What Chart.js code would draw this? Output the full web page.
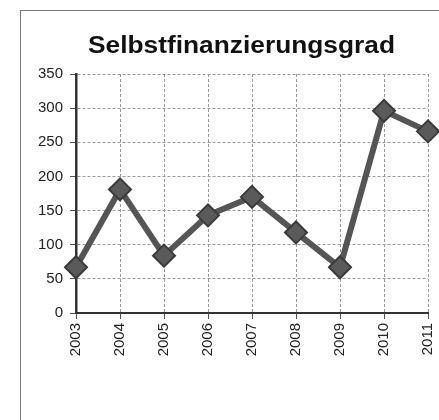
<!DOCTYPE html>
<html>
<head>
<meta charset="utf-8">
<script src="https://cdn.jsdelivr.net/npm/chart.js@4"></script>
<style>
  html, body { margin: 0; padding: 0; background: #fff; }
  #wrap { position: relative; width: 439px; height: 420px; overflow: hidden; }
  #frame {
    position: absolute; left: 20px; top: 10px; width: 440px; height: 430px;
    border-left: 1.5px solid #777; border-top: 1.5px solid #777;
  }
  #chart { position: absolute; left: 0; top: 0; }
</style>
</head>
<body>
<div id="wrap">
  <div id="frame"></div>
  <canvas id="chart" width="484" height="420"></canvas>
</div>
<script>
const years = ['2003', '2004', '2005', '2006', '2007', '2008', '2009', '2010', '2011'];
const grad = [67, 181, 84, 143, 170, 118, 67, 296, 266];
const yTicks = [0, 50, 100, 150, 200, 250, 300, 350];
const titleText = 'Selbstfinanzierungsgrad';

const FONT = 'Arial, "Liberation Sans", sans-serif';

// title is drawn here (not by the title plugin) so it can sit off-centre like the scan
const titlePlugin = {
  id: 'scanTitle',
  afterDraw: (c) => {
    const g = c.ctx;
    g.save();
    g.font = 'bold 23px ' + FONT;
    g.fillStyle = '#111';
    g.textAlign = 'center';
    g.textBaseline = 'alphabetic';
    const w = g.measureText(titleText).width;
    g.translate(241.5, 53);
    g.scale(307 / w, 1); // scan is a bit stretched sideways
    g.fillText(titleText, 0, 0);
    g.restore();
  }
};

const ctx = document.getElementById('chart').getContext('2d');
const chart = new Chart(ctx, {
  type: 'line',
  data: {
    labels: years,
    datasets: [{
      label: titleText,
      data: grad,
      borderColor: '#555555',
      borderWidth: 6,
      tension: 0,
      pointStyle: 'rectRot',
      pointRadius: 11,
      pointBackgroundColor: '#5a5a5a',
      pointBorderColor: '#3a3a3a',
      pointBorderWidth: 2
    }]
  },
  options: {
    responsive: false,
    animation: false,
    layout: { padding: { left: 0, right: 56, top: 74, bottom: 0 } },
    plugins: {
      legend: { display: false },
      tooltip: { enabled: false },
      title: { display: false }
    },
    scales: {
      x: {
        offset: false,
        afterFit: (scale) => { scale.height = 107; },
        grid: { color: '#999', lineWidth: 1, tickLength: 6, tickColor: '#555', tickBorderDash: [] },
        border: { display: true, color: '#333', width: 2, dash: [3, 2] },
        ticks: {
          color: '#222',
          font: { family: FONT, size: 15 },
          minRotation: 90,
          maxRotation: 90,
          padding: 4
        }
      },
      y: {
        min: 0,
        max: 350,
        afterFit: (scale) => { scale.width = 76; },
        afterBuildTicks: (scale) => { scale.ticks = yTicks.map(v => ({ value: v })); },
        grid: { color: '#999', lineWidth: 1, tickLength: 6, tickColor: '#555', tickBorderDash: [] },
        border: { display: true, color: '#333', width: 2.5, dash: [3, 2] },
        ticks: {
          color: '#222',
          font: { family: FONT, size: 15 },
          padding: 7
        }
      }
    }
  },
  plugins: [titlePlugin]
});
</script>
</body>
</html>
